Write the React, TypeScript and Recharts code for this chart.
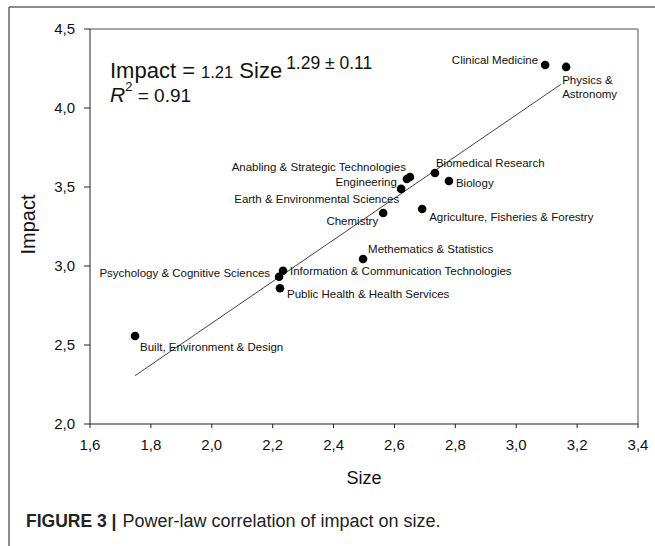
import { ScatterChart, Scatter, XAxis, YAxis, ReferenceLine } from "recharts";

const FONT = "'Liberation Sans', Arial, Helvetica, sans-serif";

const fields = [
    "Clinical Medicine",
    "Physics & Astronomy",
    "Biomedical Research",
    "Biology",
    "Anabling & Strategic Technologies",
    "Engineering",
    "Earth & Environmental Sciences",
    "Chemistry",
    "Agriculture, Fisheries & Forestry",
    "Methematics & Statistics",
    "Information & Communication Technologies",
    "Psychology & Cognitive Sciences",
    "Public Health & Health Services",
    "Built, Environment & Design",
]
const sizes = [3.095, 3.164, 2.733, 2.779, 2.651, 2.641, 2.622, 2.563, 2.691, 2.497, 2.234, 2.221, 2.224, 1.748]
const impacts = [4.272, 4.26, 3.589, 3.538, 3.563, 3.551, 3.488, 3.335, 3.361, 3.044, 2.97, 2.932, 2.859, 2.557]

const xTicks = [1.6, 1.8, 2.0, 2.2, 2.4, 2.6, 2.8, 3.0, 3.2, 3.4]
const yTicks = [2.0, 2.5, 3.0, 3.5, 4.0, 4.5]

// fitted line end points (size, impact)
const fitLine = [
    { x: 1.748, y: 2.306 },
    { x: 3.147, y: 4.15 },
]

// where each point label sits relative to its dot
const labelPlacement: Record<string, { dx: number, dy: number, anchor: "start" | "end", lines?: string[] }> = {
    "Clinical Medicine": { dx: -7, dy: -5, anchor: "end" },
    "Physics & Astronomy": { dx: -4, dy: 13, anchor: "start", lines: ["Physics &", "Astronomy"] },
    "Biomedical Research": { dx: 1, dy: -10, anchor: "start" },
    "Biology": { dx: 7, dy: 2, anchor: "start" },
    "Anabling & Strategic Technologies": { dx: -4, dy: -10, anchor: "end" },
    "Engineering": { dx: -10, dy: 3, anchor: "end" },
    "Earth & Environmental Sciences": { dx: -2, dy: 10, anchor: "end" },
    "Chemistry": { dx: -5, dy: 8, anchor: "end" },
    "Agriculture, Fisheries & Forestry": { dx: 7, dy: 8, anchor: "start" },
    "Methematics & Statistics": { dx: 5, dy: -10, anchor: "start" },
    "Information & Communication Technologies": { dx: 7, dy: 0, anchor: "start" },
    "Psychology & Cognitive Sciences": { dx: -9, dy: -4, anchor: "end" },
    "Public Health & Health Services": { dx: 7, dy: 6, anchor: "start" },
    "Built, Environment & Design": { dx: 5, dy: 11, anchor: "start" },
}

const points = fields.map((name, i) => ({ name, size: sizes[i], impact: impacts[i] }))

const comma = (v: number) => v.toFixed(1).replace(".", ",")

function Dot(props: any) {
    const { cx, cy, payload } = props
    const place = labelPlacement[payload.name]
    const lines = place.lines ?? [payload.name]
    return (
        <g>
            <circle cx={cx} cy={cy} r={4.3} fill="#000" />
            {lines.map((line, k) => (
                <text key={k} x={cx + place.dx} y={cy + place.dy + k * 14} textAnchor={place.anchor}
                    dominantBaseline="central" fontSize={11.5} fill="#111" fontFamily={FONT}>{line}</text>
            ))}
        </g>
    )
}

export default function App() {
    return (
        <div style={{ position: "absolute", left: 0, top: 0, width: 655, height: 546, background: "#fff", fontFamily: FONT }}>
            <ScatterChart width={655} height={546} margin={{ top: 29, right: 17, bottom: 92, left: 30 }}>
                <XAxis type="number" dataKey="size" domain={[1.6, 3.4]} ticks={xTicks} tickFormatter={comma}
                    height={30} tickSize={4} tickMargin={11} stroke="#222"
                    tick={{ fontSize: 15, fill: "#111", fontFamily: FONT }} allowDataOverflow
                    label={{
                        content: ({ viewBox }: any) => (
                            <text x={viewBox.x + viewBox.width / 2} y={484} textAnchor="middle"
                                fontSize={18} fill="#111" fontFamily={FONT}>Size</text>
                        )
                    }} />
                <YAxis type="number" dataKey="impact" domain={[2, 4.5]} ticks={yTicks} tickFormatter={comma}
                    width={60} tickSize={6} tickMargin={9} stroke="#222"
                    tick={{ fontSize: 15, fill: "#111", fontFamily: FONT }} allowDataOverflow
                    label={{
                        content: ({ viewBox }: any) => {
                            const cy = viewBox.y + viewBox.height / 2 - 2
                            return (
                                <text x={35} y={cy} transform={`rotate(-90 35 ${cy})`} textAnchor="middle"
                                    fontSize={20} fill="#111" fontFamily={FONT}>Impact</text>
                            )
                        }
                    }} />
                <ReferenceLine y={4.5} stroke="#8a8a8a" strokeWidth={1.5} />
                <ReferenceLine x={3.4} stroke="#8a8a8a" strokeWidth={1.5} />
                <ReferenceLine segment={fitLine} stroke="#444" strokeWidth={1} />
                <Scatter data={points} shape={Dot} isAnimationActive={false} />
            </ScatterChart>
            <svg width={655} height={546} style={{ position: "absolute", left: 0, top: 0, pointerEvents: "none" }}>
                <line x1={9} y1={7} x2={655} y2={7} stroke="#666" strokeWidth={1.5} />
                <line x1={9} y1={7} x2={9} y2={546} stroke="#666" strokeWidth={1.5} />
                <text x={110} y={78} fontSize={22} fill="#111" fontFamily={FONT}>
                    Impact = <tspan fontSize={16.5}>1.21</tspan> Size<tspan fontSize={17.5} dx={4} dy={-9}>1.29 ± 0.11</tspan>
                </text>
                <text x={110} y={102} fontSize={21} fill="#111" fontFamily={FONT}>
                    <tspan fontStyle="italic">R</tspan><tspan fontSize={13} dy={-11}>2</tspan><tspan fontSize={19} dy={11}> = 0.91</tspan>
                </text>
                <text x={26} y={527} fontSize={18} fill="#222" fontFamily={FONT}>
                    <tspan fontWeight="bold" fontSize={17.5}>FIGURE 3 |</tspan><tspan dx={6}>Power-law correlation of impact on size.</tspan>
                </text>
            </svg>
        </div>
    )
}
